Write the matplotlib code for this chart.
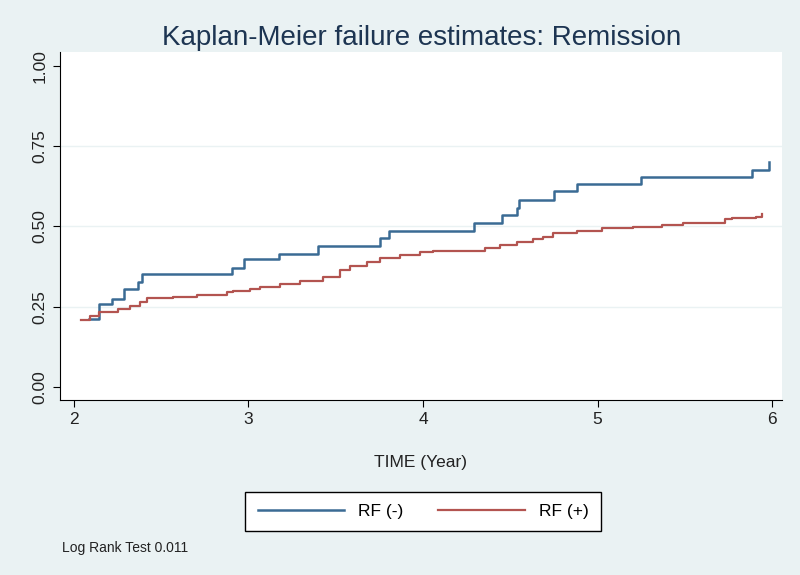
import matplotlib
matplotlib.use("Agg")
import matplotlib.pyplot as plt

# RF (-) step curve: time (years) and cumulative failure
neg_time = [2.086, 2.143, 2.22, 2.287, 2.365, 2.39, 2.904, 2.974, 3.175, 3.40,
            3.754, 3.807, 4.294, 4.453, 4.54, 4.55, 4.75, 4.88, 5.247, 5.884, 5.98]
neg_fail = [0.21, 0.258, 0.274, 0.305, 0.328, 0.351, 0.370, 0.397, 0.415, 0.439,
            0.464, 0.487, 0.512, 0.535, 0.557, 0.583, 0.609, 0.632, 0.654, 0.675, 0.70]

# RF (+) step curve
pos_time = [2.038, 2.092, 2.143, 2.206, 2.254, 2.321, 2.378, 2.42, 2.569, 2.703,
            2.875, 2.913, 3.009, 3.066, 3.18, 3.295, 3.429, 3.524, 3.582, 3.677,
            3.754, 3.868, 3.983, 4.06, 4.355, 4.441, 4.537, 4.632, 4.69, 4.747,
            4.88, 5.024, 5.205, 5.368, 5.49, 5.73, 5.77, 5.91, 5.94]
pos_fail = [0.209, 0.221, 0.232, 0.234, 0.242, 0.253, 0.265, 0.277, 0.279, 0.286,
            0.295, 0.300, 0.305, 0.310, 0.320, 0.331, 0.342, 0.363, 0.378, 0.389,
            0.402, 0.410, 0.419, 0.424, 0.433, 0.441, 0.450, 0.460, 0.468, 0.480,
            0.487, 0.494, 0.499, 0.504, 0.512, 0.522, 0.527, 0.528, 0.538]

x_ticks = [2, 3, 4, 5, 6]
y_ticks = [0.0, 0.25, 0.5, 0.75, 1.0]
y_labels = ["0.00", "0.25", "0.50", "0.75", "1.00"]

bg = "#eaf2f3"
blue = "#3a6b94"
red = "#b35450"

plt.rcParams["font.family"] = ["Liberation Sans", "DejaVu Sans"]

fig = plt.figure(figsize=(8, 5.75), dpi=100, facecolor=bg)
ax = fig.add_axes([0.075, 0.3043, 0.9025, 0.6057])
ax.set_facecolor("white")

ax.plot(neg_time, neg_fail, drawstyle="steps-post", color=blue, lw=1.8, label="RF (-)")
ax.plot(pos_time, pos_fail, drawstyle="steps-post", color=red, lw=1.6, label="RF (+)")

ax.set_xlim(1.92, 6.057)
ax.set_ylim(-0.041, 1.044)
ax.set_xticks(x_ticks)
ax.set_yticks(y_ticks)
ax.set_yticklabels(y_labels, rotation=90, va="center")
for y in y_ticks[1:4]:
    ax.axhline(y, color=bg, lw=1, zorder=0)

for side in ("top", "right"):
    ax.spines[side].set_visible(False)
ax.spines["left"].set_color("black")
ax.spines["bottom"].set_color("black")
ax.tick_params(axis="both", length=5, color="black", labelsize=12.5, labelcolor="#222222")
ax.tick_params(axis="y", pad=4)

ax.set_xlabel("TIME (Year)", fontsize=12.5, color="#222222", labelpad=20)
# title centred over the plot region, as Stata does
fig.text(0.527, 0.934, "Kaplan-Meier failure estimates: Remission", fontsize=20,
         color="#1d3552", ha="center", va="center")

fig.legend(loc="center", bbox_to_anchor=(0.529, 0.11), ncol=2, fontsize=12.5,
           frameon=True, fancybox=False, edgecolor="black", framealpha=1,
           handlelength=5.0, columnspacing=2.0, borderpad=0.7)

fig.text(0.078, 0.04, "Log Rank Test 0.011", fontsize=10, color="#222222")

fig.savefig("out.png", dpi=100, facecolor=bg)
